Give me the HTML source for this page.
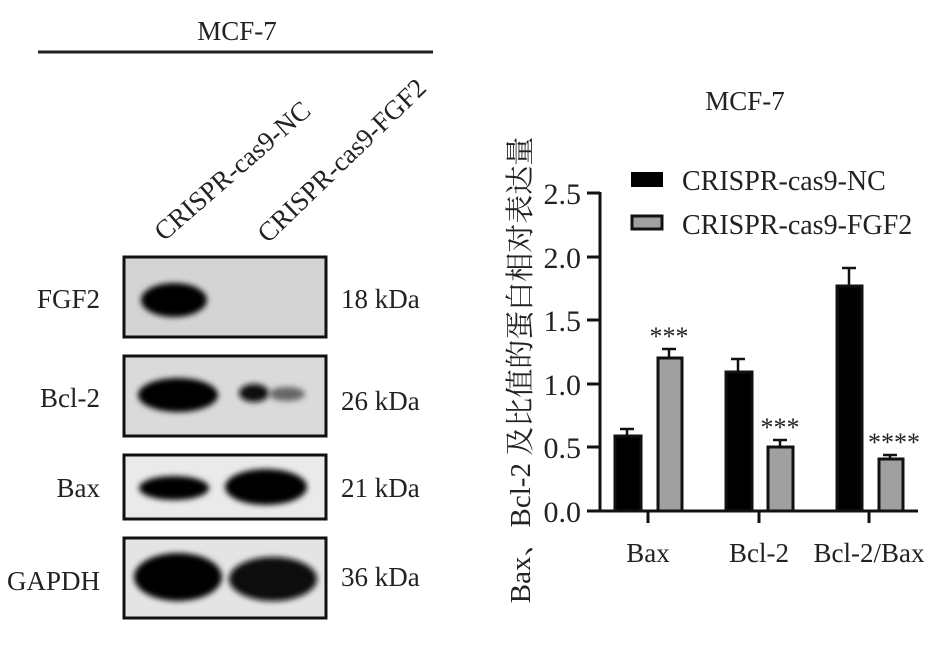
<!DOCTYPE html>
<html><head><meta charset="utf-8"><style>
body{margin:0;background:#fff;}
svg text{font-family:"Liberation Serif","Noto Serif CJK SC",serif;fill:#222;}
</style></head><body>
<svg width="945" height="650" viewBox="0 0 945 650" xmlns="http://www.w3.org/2000/svg">
<defs>
<filter id="b" x="-30%" y="-60%" width="160%" height="220%"><feGaussianBlur stdDeviation="3"/></filter>
</defs>
<text x="237" y="40" font-size="27" text-anchor="middle">MCF-7</text>
<line x1="38" y1="52" x2="433" y2="52" stroke="#222" stroke-width="3"/>
<text font-size="27" transform="translate(164,242) rotate(-41)">CRISPR-cas9-NC</text>
<text font-size="27" transform="translate(268,244) rotate(-44)">CRISPR-cas9-FGF2</text>
<!-- blots -->
<g>
<rect x="124" y="257" width="202" height="80" fill="#d4d4d4" stroke="#111" stroke-width="3"/>
<ellipse cx="174" cy="300" rx="33" ry="17" fill="#000" filter="url(#b)"/>
<rect x="124" y="356" width="202" height="80" fill="#dadada" stroke="#111" stroke-width="3"/>
<ellipse cx="178" cy="395" rx="40" ry="17" fill="#000" filter="url(#b)"/>
<ellipse cx="254" cy="393" rx="15" ry="9" fill="#111" filter="url(#b)"/>
<ellipse cx="287" cy="394" rx="18" ry="7" fill="#666" filter="url(#b)"/>
<rect x="124" y="455" width="202" height="64" fill="#eaeaea" stroke="#111" stroke-width="3"/>
<ellipse cx="174" cy="488" rx="35" ry="12" fill="#000" filter="url(#b)"/>
<ellipse cx="266" cy="487" rx="41" ry="18" fill="#000" filter="url(#b)"/>
<rect x="124" y="538" width="202" height="80" fill="#e4e4e4" stroke="#111" stroke-width="3"/>
<ellipse cx="178" cy="577" rx="44" ry="24" fill="#000" filter="url(#b)"/>
<ellipse cx="273" cy="579" rx="44" ry="22" fill="#0a0a0a" filter="url(#b)"/>
</g>
<g font-size="27">
<text x="100" y="308" text-anchor="end">FGF2</text>
<text x="100" y="407" text-anchor="end">Bcl-2</text>
<text x="100" y="497" text-anchor="end">Bax</text>
<text x="100" y="590" text-anchor="end">GAPDH</text>
<text x="341" y="308">18 kDa</text>
<text x="341" y="410">26 kDa</text>
<text x="341" y="497">21 kDa</text>
<text x="341" y="586">36 kDa</text>
</g>
<!-- chart -->
<text x="745" y="110" font-size="27" text-anchor="middle">MCF-7</text>
<text font-size="29" text-anchor="middle" transform="translate(530,370) rotate(-90)">Bax、Bcl-2 及比值的蛋白相对表达量</text>
<g stroke="#111" stroke-width="3" fill="none">
<line x1="600" y1="192" x2="600" y2="512"/>
<line x1="587" y1="511" x2="918" y2="511"/>
<line x1="587" y1="193" x2="600" y2="193"/>
<line x1="587" y1="257" x2="600" y2="257"/>
<line x1="587" y1="320" x2="600" y2="320"/>
<line x1="587" y1="384" x2="600" y2="384"/>
<line x1="587" y1="447" x2="600" y2="447"/>
<line x1="648" y1="511" x2="648" y2="523"/>
<line x1="759" y1="511" x2="759" y2="523"/>
<line x1="869" y1="511" x2="869" y2="523"/>
</g>
<g font-size="30" text-anchor="end">
<text x="581" y="204">2.5</text>
<text x="581" y="268">2.0</text>
<text x="581" y="331">1.5</text>
<text x="581" y="395">1.0</text>
<text x="581" y="458">0.5</text>
<text x="581" y="522">0.0</text>
</g>
<g font-size="27" text-anchor="middle">
<text x="648" y="562">Bax</text>
<text x="759" y="562">Bcl-2</text>
<text x="869" y="562">Bcl-2/Bax</text>
</g>
<g stroke="#111" stroke-width="2.5">
<line x1="627" y1="429" x2="627" y2="436"/><line x1="620" y1="429" x2="634" y2="429"/>
<line x1="669" y1="349" x2="669" y2="366"/><line x1="662" y1="349" x2="676" y2="349"/>
<line x1="738" y1="359" x2="738" y2="372"/><line x1="731" y1="359" x2="745" y2="359"/>
<line x1="780" y1="440" x2="780" y2="454"/><line x1="773" y1="440" x2="787" y2="440"/>
<line x1="849" y1="268" x2="849" y2="286"/><line x1="842" y1="268" x2="856" y2="268"/>
<line x1="890" y1="455" x2="890" y2="462"/><line x1="883" y1="455" x2="897" y2="455"/>
</g>
<g stroke="#111" stroke-width="3">
<rect x="615" y="436" width="26" height="75" fill="#000"/>
<rect x="658" y="358" width="24" height="153" fill="#a0a0a0"/>
<rect x="726" y="372" width="26" height="139" fill="#000"/>
<rect x="768" y="447" width="25" height="64" fill="#a0a0a0"/>
<rect x="837" y="286" width="25" height="225" fill="#000"/>
<rect x="879" y="459" width="24" height="52" fill="#a0a0a0"/>
</g>
<g font-size="26" text-anchor="middle">
<text x="669" y="345">***</text>
<text x="780" y="436">***</text>
<text x="894" y="451">****</text>
</g>
<rect x="631" y="172" width="32" height="15" fill="#000"/>
<rect x="632" y="216" width="30" height="13" fill="#a0a0a0" stroke="#111" stroke-width="3"/>
<g font-size="28">
<text x="682" y="190">CRISPR-cas9-NC</text>
<text x="682" y="234">CRISPR-cas9-FGF2</text>
</g>
</svg>
</body></html>
